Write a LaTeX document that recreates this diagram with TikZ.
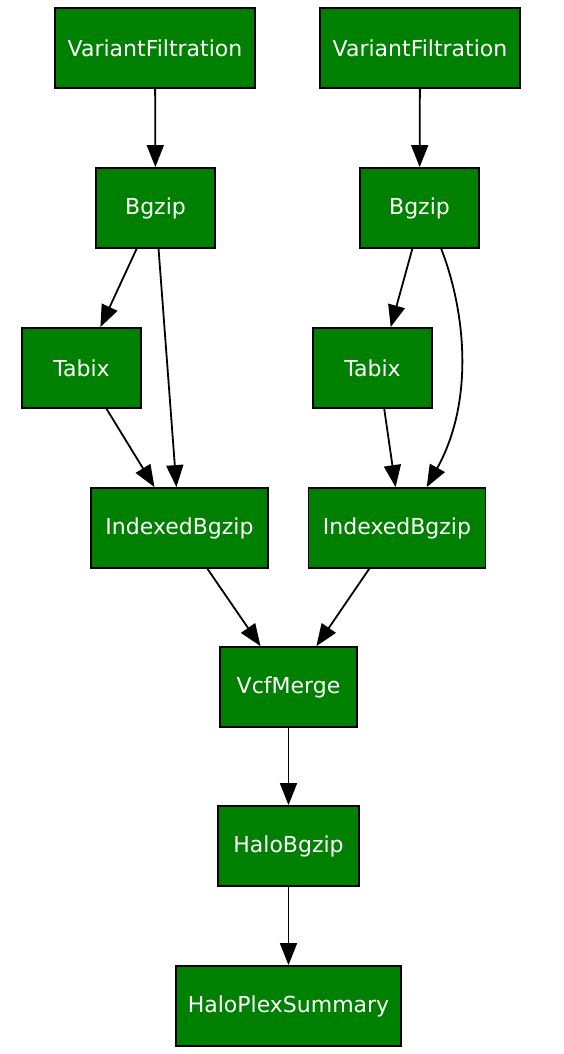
\documentclass[tikz,border=0pt]{standalone}
\usepackage{fontspec}
\setmainfont{DejaVu Sans}
\usetikzlibrary{arrows.meta}
\definecolor{taskgreen}{RGB}{0,128,0}
\tikzset{
  task/.style={draw=black,fill=taskgreen,text=white,line width=1.8pt,
    minimum height=80pt,inner sep=0pt,font=\fontsize{22}{26}\selectfont},
  flow/.style={line width=1.8pt,-{Triangle[length=22pt,width=17pt]}}
}
\begin{document}
\begin{tikzpicture}[x=1pt,y=-1pt]
\useasboundingbox (0,0) rectangle (564,1054);
\node[task,minimum width=200pt] (vf1) at (155,48) {VariantFiltration};
\node[task,minimum width=200pt] (vf2) at (420,48) {VariantFiltration};
\node[task,minimum width=119pt] (bgz1) at (155.5,208) {Bgzip};
\node[task,minimum width=119pt] (bgz2) at (419.5,208) {Bgzip};
\node[task,minimum width=119pt] (tab1) at (81.5,368) {Tabix};
\node[task,minimum width=119pt] (tab2) at (372.5,368) {Tabix};
\node[task,minimum width=177pt] (ibg1) at (179.5,528) {IndexedBgzip};
\node[task,minimum width=177pt] (ibg2) at (397,528) {IndexedBgzip};
\node[task,minimum width=137pt] (merge) at (288.5,687) {VcfMerge};
\node[task,minimum width=141pt] (halo) at (288.5,846) {HaloBgzip};
\node[task,minimum width=225pt] (summary) at (288.5,1006) {HaloPlexSummary};
% left branch
\draw[flow] (vf1) -- (bgz1);
\draw[flow] (bgz1) -- (tab1);
\draw[flow] (bgz1) -- (ibg1);
\draw[flow] (tab1) -- (ibg1);
% right branch
\draw[flow] (vf2) -- (bgz2);
\draw[flow] (bgz2.-100) -- (tab2.66);
\draw[flow] (bgz2.-62) .. controls (465,310) and (475,400) .. (ibg2.54);
\draw[flow] (tab2.-74) -- (ibg2.92);
% merge
\draw[flow] (ibg1) -- (merge);
\draw[flow] (ibg2) -- (merge);
\draw[flow] (merge) -- (halo);
\draw[flow] (halo) -- (summary);
\end{tikzpicture}
\end{document}
